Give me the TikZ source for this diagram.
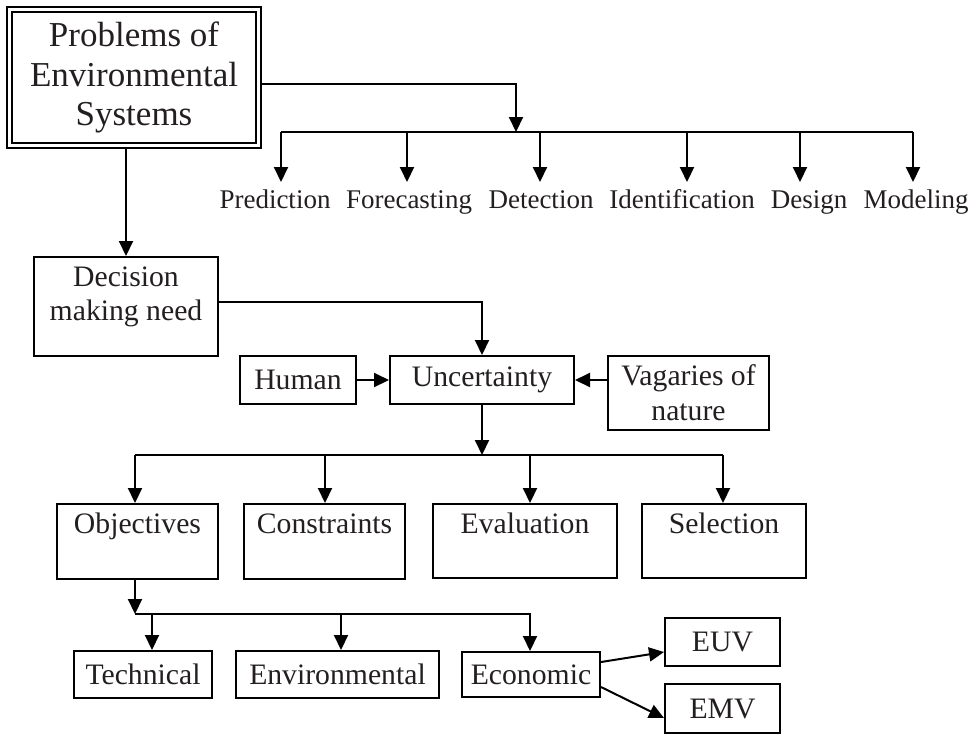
\documentclass[tikz,border=0pt]{standalone}
\usepackage{fontspec}
\setmainfont{Liberation Serif}
\usetikzlibrary{arrows.meta}
\definecolor{ink}{HTML}{231F20}
\begin{document}
\begin{tikzpicture}[x=0.5pt,y=-0.5pt,
  line width=1pt,
  arr/.style={-{Triangle[width=7pt,length=7.5pt]}},
  box/.style={draw, inner sep=0pt, text=ink, align=center,
    font=\fontsize{14.85}{17.5}\selectfont},
  lbl/.style={inner sep=3pt, text height=9.5pt, text depth=3pt, anchor=base,
    text=ink, font=\fontsize{13.5}{15}\selectfont},
  txt/.style={inner sep=0pt, anchor=base, text=ink,
    font=\fontsize{14.85}{16.5}\selectfont}]
\useasboundingbox (0,0) rectangle (978,735);

% title box with a double frame
\node[draw, double, double distance=1.5pt, inner sep=0pt,
  minimum width=124.5pt, minimum height=68pt, align=center, text=ink,
  font=\fontsize{17.5}{19.75}\selectfont] (prob) at (134,77.5)
  {Problems of\\Environmental\\Systems};

% problem types
\node[lbl] (pred) at (275,208) {Prediction};
\node[lbl] (fore) at (409,208) {Forecasting};
\node[lbl] (dete) at (541,208) {Detection};
\node[lbl] (iden) at (682,208) {Identification};
\node[lbl] (desi) at (809,208) {Design};
\node[lbl] (mode) at (916,208) {Modeling};

\coordinate (tl) at (281,132);
\coordinate (tr) at (913,132);
\coordinate (tj) at (516,132);
\draw (tl) -- (tr);
\draw[arr] ([yshift=-3.25pt]prob.east) -| (tj);
\coordinate (p1) at ([xshift=3pt]pred.north);
\coordinate (p2) at ([xshift=-1pt]fore.north);
\coordinate (p3) at ([xshift=-0.5pt]dete.north);
\coordinate (p4) at ([xshift=2.5pt]iden.north);
\coordinate (p5) at ([xshift=-4.5pt]desi.north);
\coordinate (p6) at ([xshift=-1.5pt]mode.north);
\foreach \p in {p1,p2,p3,p4,p5,p6}
  \draw[arr] (\p |- tl) -- (\p);

% decision making need
\node[box, minimum width=92pt, minimum height=49.5pt] (dec) at (126,306.5) {};
\node[txt, anchor=center, align=center, font=\fontsize{14.85}{16.75}\selectfont]
  (decT) at (126,297) {Decision\\making need};
\draw[arr] (dec.north |- prob.south) -- (dec.north);

% uncertainty and its sources
\node[box, minimum width=92pt, minimum height=24pt] (unc) at (482,380) {Uncertainty};
\node[box, minimum width=58pt, minimum height=24pt] (hum) at (298,380) {Human};
\node[box, minimum width=80.5pt, minimum height=37pt] (vag) at (688.5,393)
  {Vagaries of\\nature};
\draw[arr] ([yshift=2.25pt]dec.east) -| (unc.north);
\draw[arr] (hum.east) -- (unc.west);
\draw[arr] (vag.west |- unc.east) -- (unc.east);

% decision elements
\node[box, minimum width=80.5pt, minimum height=37.5pt] (obj) at (137.5,541.5) {};
\node[box, minimum width=80.5pt, minimum height=37.5pt] (con) at (324.5,541.5) {};
\node[box, minimum width=92pt, minimum height=37pt] (eva) at (525,541) {};
\node[box, minimum width=82pt, minimum height=37pt] (sel) at (724,541) {};
\node[txt] (objT) at (137.5,533) {Objectives};
\node[txt] (conT) at (324.5,533) {Constraints};
\node[txt] (evaT) at (525,533) {Evaluation};
\node[txt] (selT) at (724,533) {Selection};

\coordinate (ml) at (135,455);
\coordinate (mr) at (723,455);
\coordinate (m2) at (325,455);
\coordinate (m3) at (530,455);
\draw (ml) -- (mr);
\draw[arr] (unc.south) -- (unc.south |- ml);
\draw[arr] (ml) -- (ml |- obj.north);
\draw[arr] (m2) -- (m2 |- con.north);
\draw[arr] (m3) -- (m3 |- eva.north);
\draw[arr] (mr) -- (mr |- sel.north);

% objective types
\node[box, minimum width=69pt, minimum height=23.5pt] (tech) at (143,674.5) {Technical};
\node[box, minimum width=101.5pt, minimum height=23.5pt] (env) at (337.5,674.5) {Environmental};
\node[box, minimum width=69pt, minimum height=22.5pt] (eco) at (531,674.5) {Economic};
\node[box, minimum width=57.5pt, minimum height=24pt] (euv) at (722.5,642) {EUV};
\node[box, minimum width=57.5pt, minimum height=24.5pt] (emv) at (722.5,708.5) {EMV};

\coordinate (bl) at (135,614);
\coordinate (br) at (530,614);
\coordinate (b1) at (152,614);
\coordinate (b2) at (341,614);
\draw[arr] (bl |- obj.south) -- (bl);
\draw[arr] (bl) -- (br) -- (br |- eco.north);
\draw[arr] (b1) -- (b1 |- tech.north);
\draw[arr] (b2) -- (b2 |- env.north);
\draw[arr] ([yshift=6.25pt]eco.east) -- ([yshift=-5pt]euv.west);
\draw[arr] ([yshift=-6.25pt]eco.east) -- ([yshift=-4.75pt]emv.west);
\end{tikzpicture}
\end{document}
